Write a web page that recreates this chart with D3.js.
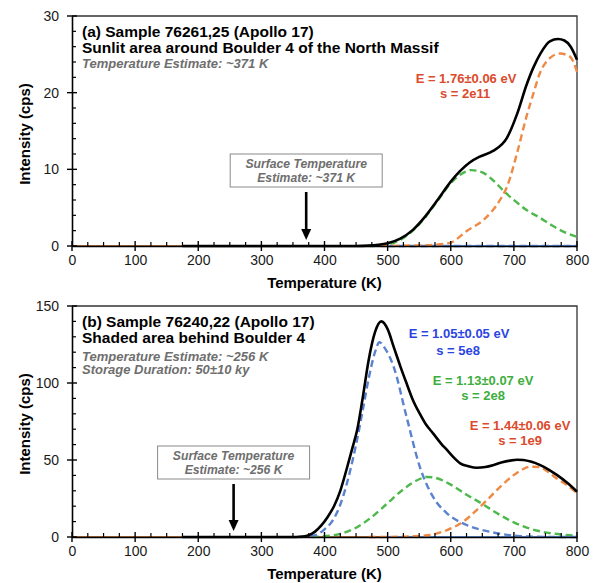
<!DOCTYPE html>
<html><head><meta charset="utf-8">
<script src="https://cdn.jsdelivr.net/npm/d3@7"></script>
<style>body{margin:0;background:#fff}svg{display:block}</style>
</head><body>
<svg id="c" width="593" height="583"></svg>
<script>
// ---------- DATA ----------
const xTicks = [0,100,200,300,400,500,600,700,800];
const yTicksTop = [0,10,20,30];
const yTicksBottom = [0,50,100,150];

// Panel (a) — Sample 76261,25
const topTotal = [[175,0],[450,0],[470,0.05],[485,0.15],[500,0.35],[520,0.95],[540,2.1],[560,3.9],[580,6.1],[600,8.4],[615,9.8],[630,10.9],[646,11.65],[667,12.4],[689,14.1],[705,17.2],[720,21.0],[731,23.3],[742,25.1],[757,26.7],[770,27.0],[780,26.8],[790,26.0],[800,24.3]];
const topGreen = [[470,0],[500,0.2],[520,0.8],[540,2.0],[560,3.8],[580,6.0],[600,8.2],[615,9.3],[633,9.9],[650,9.6],[668,8.5],[686,7.0],[700,6.0],[720,4.7],[741,3.7],[760,2.7],[780,1.8],[800,1.2]];
const topOrange = [[490,0],[530,0.05],[560,0.1],[580,0.2],[600,0.45],[626,2.0],[652,3.4],[678,6.0],[689,7.7],[705,12.1],[720,16.9],[731,19.9],[741,22.5],[757,24.5],[773,25.1],[789,24.7],[800,22.7]];
const topBlue = [[500,0],[800,0]];

// Panel (b) — Sample 76240,22
const botTotal = [[175,0],[355,0],[365,0.3],[375,1.2],[385,3.5],[395,7.5],[405,13],[415,20],[425,30],[435,44],[445,59],[452,70],[460,89],[470,115],[480,133],[490,140],[500,135],[510,123],[520,111],[530,99.8],[540,89],[551,80],[560,73.5],[572,67.3],[585,60.5],[594,56.5],[605,51.5],[615,47.8],[628,46],[641,45],[655,45.5],[668,46.8],[680,48.3],[694,49.6],[705,50.2],[715,50],[728,48.8],[741,46.8],[755,43.8],[768,40.3],[785,35],[800,29.4]];
const botBlue = [[360,0],[375,0.4],[390,2],[400,5],[410,9],[420,16],[430,27],[440,42],[450,60],[460,81],[470,103],[480,120],[487,126.5],[495,123],[510,110],[530,78],[551,45.6],[572,26],[594,15.4],[625,7.8],[662,3.4],[710,0.6],[750,0.1],[800,0]];
const botGreen = [[380,0],[400,0.5],[425,2],[450,6],[475,13],[500,22],[525,31],[550,37.5],[562,39],[575,38.5],[600,34],[625,27.5],[650,21.5],[675,15],[700,9.5],[725,5.5],[750,3],[775,1.6],[800,0.9]];
const botOrange = [[470,0],[520,0.2],[540,0.5],[567,1.3],[594,4.5],[620,10],[641,17.5],[660,25],[673,30.5],[686,35.5],[699,40],[712,43.5],[725,45.6],[740,45.5],[755,42],[768,38],[785,33.5],[800,28.4]];

const baseOrange = [[0,0],[500,0]];
const baseBlue = [[500,0],[800,0]];

// ---------- STYLE ----------
const FONT = "'Liberation Sans', Arial, Helvetica, sans-serif";
const C = {black:"#000", orange:"#EE8A45", green:"#4DB84B", blue:"#5A82CF",
           baseOrange:"#B5703E", baseBlue:"#5B8AD6",
           tRed:"#DC4A2C", tBlue:"#2B45E3", tGreen:"#3DAE3D", gray:"#6E6E6E"};

const svg = d3.select("#c");
const x = d3.scaleLinear().domain([0,800]).range([72,577]);

function panel(cfg){
  const y = d3.scaleLinear().domain([0,cfg.ymax]).range([cfg.bottom,cfg.top]);
  const g = svg.append("g");
  const line = d3.line().x(d=>x(d[0])).y(d=>y(d[1])).curve(d3.curveMonotoneX);
  g.append("path").attr("d",`M${x(0)},${y(cfg.ymax)}H${x(800)}V${y(0)}`)
    .attr("fill","none").attr("stroke","#333").attr("stroke-width",1.3);
  g.append("path").datum(baseOrange).attr("d",line).attr("fill","none").attr("stroke",C.baseOrange).attr("stroke-width",2);
  g.append("path").datum(baseBlue).attr("d",line).attr("fill","none").attr("stroke",C.baseBlue).attr("stroke-width",2.2);
  cfg.dashed.forEach(s=>{
    g.append("path").datum(s.data).attr("d",line).attr("fill","none")
      .attr("stroke",s.color).attr("stroke-width",2.4).attr("stroke-dasharray","7,4");
  });
  g.append("path").datum(cfg.total).attr("d",line).attr("fill","none")
    .attr("stroke",C.black).attr("stroke-width",2.6);

  const xa = g.append("g").attr("transform",`translate(0,${cfg.bottom})`)
    .call(d3.axisBottom(x).tickValues(xTicks).tickSize(0).tickPadding(9));
  xa.select(".domain").attr("stroke","#000").attr("stroke-width",1.6);
  xa.selectAll("text").attr("font-family",FONT).attr("font-size",14).attr("fill","#1a1a1a");
  const minorX = d3.range(0,801,25).filter(v=>v%100!==0);
  g.selectAll(null).data(minorX).join("line")
    .attr("x1",d=>x(d)).attr("x2",d=>x(d)).attr("y1",cfg.bottom).attr("y2",cfg.bottom-4)
    .attr("stroke","#000").attr("stroke-width",1.2);
  g.selectAll(null).data(xTicks).join("line")
    .attr("x1",d=>x(d)).attr("x2",d=>x(d)).attr("y1",cfg.bottom-5).attr("y2",cfg.bottom+5)
    .attr("stroke","#000").attr("stroke-width",1.4);

  const ya = g.append("g").attr("transform",`translate(${x(0)},0)`)
    .call(d3.axisLeft(y).tickValues(cfg.yTicks).tickSize(0).tickPadding(13));
  ya.select(".domain").attr("stroke","#000").attr("stroke-width",1.6);
  ya.selectAll("text").attr("font-family",FONT).attr("font-size",14).attr("fill","#1a1a1a");
  const step = cfg.ymax/15;
  const minorY = d3.range(0,cfg.ymax+0.001,step).filter(v=>Math.abs(v/(cfg.ymax/3)-Math.round(v/(cfg.ymax/3)))>1e-6);
  g.selectAll(null).data(minorY).join("line")
    .attr("x1",x(0)).attr("x2",x(0)+4).attr("y1",d=>y(d)).attr("y2",d=>y(d))
    .attr("stroke","#000").attr("stroke-width",1.2);
  g.selectAll(null).data(cfg.yTicks).join("line")
    .attr("x1",x(0)-5).attr("x2",x(0)+5).attr("y1",d=>y(d)).attr("y2",d=>y(d))
    .attr("stroke","#000").attr("stroke-width",1.4);

  g.append("text").attr("x",(x(0)+x(800))/2).attr("y",cfg.bottom+42).attr("text-anchor","middle")
    .attr("font-family",FONT).attr("font-weight","bold").attr("font-size",15).text("Temperature (K)");
  g.append("text").attr("transform",`translate(30,${cfg.ylabelY}) rotate(-90)`).attr("text-anchor","middle")
    .attr("font-family",FONT).attr("font-weight","bold").attr("font-size",15).text("Intensity (cps)");

  cfg.header.forEach(h=>{
    g.append("text").attr("x",82).attr("y",h.y).attr("font-family",FONT)
      .attr("font-weight","bold").attr("font-style",h.italic?"italic":"normal")
      .attr("font-size",h.size).attr("fill",h.color).text(h.t);
  });
  cfg.labels.forEach(h=>{
    g.append("text").attr("x",h.x).attr("y",h.y).attr("text-anchor","middle").attr("font-family",FONT)
      .attr("font-weight","bold").attr("font-size",13).attr("fill",h.color).text(h.t);
  });

  const ax = x(cfg.surfT);
  const b = cfg.box;
  g.append("rect").attr("x",ax-76).attr("y",b.top).attr("width",152).attr("height",33)
    .attr("fill","#fff").attr("stroke","#8a8a8a").attr("stroke-width",1);
  g.append("text").attr("x",ax).attr("y",b.top+13.5).attr("text-anchor","middle").attr("font-family",FONT)
    .attr("font-weight","bold").attr("font-style","italic").attr("font-size",12.2).attr("fill",C.gray).text("Surface Temperature");
  g.append("text").attr("x",ax).attr("y",b.top+28).attr("text-anchor","middle").attr("font-family",FONT)
    .attr("font-weight","bold").attr("font-style","italic").attr("font-size",12.2).attr("fill",C.gray).text(`Estimate: ~${cfg.surfT} K`);
  g.append("line").attr("x1",ax).attr("x2",ax).attr("y1",b.top+38).attr("y2",cfg.bottom-16)
    .attr("stroke","#000").attr("stroke-width",2.6);
  g.append("path").attr("d",`M${ax-5},${cfg.bottom-17}L${ax+5},${cfg.bottom-17}L${ax},${cfg.bottom-6}Z`).attr("fill","#000");
}

panel({top:16,bottom:246,ymax:30,yTicks:yTicksTop,ylabelY:134,surfT:371,box:{top:154},
  total:topTotal,
  dashed:[{data:topBlue,color:C.blue},{data:topGreen,color:C.green},{data:topOrange,color:C.orange}],
  header:[{t:"(a) Sample 76261,25 (Apollo 17)",y:37,size:15.5,color:"#000"},
          {t:"Sunlit area around Boulder 4 of the North Massif",y:53,size:15.5,color:"#000"},
          {t:"Temperature Estimate: ~371 K",y:67.5,size:13,color:C.gray,italic:true}],
  labels:[{t:"E = 1.76±0.06 eV",x:466,y:83,color:C.tRed},{t:"s = 2e11",x:465,y:98,color:C.tRed}]
});

panel({top:306,bottom:537,ymax:150,yTicks:yTicksBottom,ylabelY:424,surfT:256,box:{top:446},
  total:botTotal,
  dashed:[{data:botGreen,color:C.green},{data:botOrange,color:C.orange},{data:botBlue,color:C.blue}],
  header:[{t:"(b) Sample 76240,22 (Apollo 17)",y:327,size:15.5,color:"#000"},
          {t:"Shaded area behind Boulder 4",y:343,size:15.5,color:"#000"},
          {t:"Temperature Estimate: ~256 K",y:360.5,size:13,color:C.gray,italic:true},
          {t:"Storage Duration: 50±10 ky",y:374,size:13,color:C.gray,italic:true}],
  labels:[{t:"E = 1.05±0.05 eV",x:459,y:338,color:C.tBlue},{t:"s = 5e8",x:458,y:355,color:C.tBlue},
          {t:"E = 1.13±0.07 eV",x:483,y:385,color:C.tGreen},{t:"s = 2e8",x:483,y:400,color:C.tGreen},
          {t:"E = 1.44±0.06 eV",x:520,y:430,color:C.tRed},{t:"s = 1e9",x:520,y:445,color:C.tRed}]
});
</script>
</body></html>
